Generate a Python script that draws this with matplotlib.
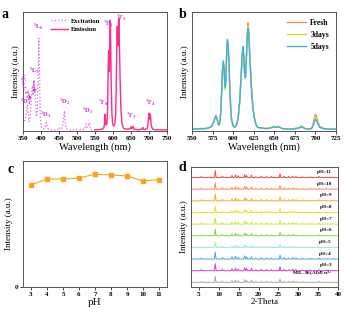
import matplotlib
matplotlib.use("Agg")
import matplotlib.pyplot as plt

plt.rcParams['font.family'] = 'Liberation Serif'
plt.rcParams['font.weight'] = 'bold'
plt.rcParams['mathtext.fontset'] = 'custom'
plt.rcParams['mathtext.rm'] = 'Liberation Serif:bold'
plt.rcParams['mathtext.it'] = 'Liberation Serif:bold'
plt.rcParams['mathtext.bf'] = 'Liberation Serif:bold'
plt.rcParams['axes.linewidth'] = 0.7
plt.rcParams['axes.edgecolor'] = '#555555'

# ---- panel a: excitation / emission ----
exc_x = [350, 353, 356, 359, 362, 364, 367, 370, 373, 376, 378, 381, 384, 387, 390, 392,
         394, 396, 398, 401, 405, 410, 413, 415, 417, 420, 430, 440, 448, 451, 454, 458,
         462, 465, 467, 470, 480, 500, 515, 522, 525, 528, 531, 534, 537, 540, 545, 550]
exc_y = [0.10, 0.08, 0.09, 0.14, 0.22, 0.15, 0.08, 0.12, 0.25, 0.38, 0.30, 0.43, 0.30, 0.12, 0.18, 0.45,
         0.78, 0.50, 0.12, 0.03, 0.02, 0.02, 0.04, 0.07, 0.04, 0.02, 0.01, 0.01, 0.015, 0.03, 0.015, 0.02,
         0.08, 0.17, 0.08, 0.02, 0.01, 0.01, 0.01, 0.02, 0.06, 0.03, 0.04, 0.07, 0.03, 0.01, 0.01, 0.01]
em_x = [550, 560, 570, 575, 577, 578, 579, 581, 583, 585, 586, 587, 588, 589, 590, 591, 592, 593,
        594, 595, 597, 599, 602, 605, 607, 609, 610, 611, 612, 613, 614, 615, 616, 617, 618, 620,
        622, 625, 630, 640, 648, 650, 652, 655, 658, 670, 680, 683, 686, 695, 698, 700, 702, 704,
        706, 710, 720, 735, 750]
em_y = [0.01, 0.012, 0.015, 0.03, 0.08, 0.14, 0.10, 0.05, 0.06, 0.18, 0.38, 0.60, 0.68, 0.58, 0.50, 0.75, 0.93, 0.88,
        0.65, 0.40, 0.15, 0.06, 0.04, 0.06, 0.12, 0.35, 0.60, 0.80, 0.88, 0.75, 0.72, 0.88, 0.95, 0.90, 0.70, 0.40,
        0.18, 0.06, 0.02, 0.015, 0.02, 0.035, 0.02, 0.04, 0.015, 0.01, 0.015, 0.03, 0.01, 0.02, 0.08, 0.15, 0.10, 0.14,
        0.05, 0.015, 0.01, 0.01, 0.01]
a_labels = [r'$^{5}$L$_{6}$', r'$^{5}$L$_{7}$', r'$^{5}$D$_{4}$', r'$^{5}$D$_{3}$', r'$^{5}$D$_{2}$',
            r'$^{5}$D$_{1}$', r'$^{7}$F$_{0}$', r'$^{7}$F$_{1}$', r'$^{7}$F$_{2}$', r'$^{7}$F$_{3}$',
            r'$^{7}$F$_{4}$']
a_label_x = [394, 381, 357, 414, 465, 530, 574, 586, 622, 651, 704]
a_label_y = [0.83, 0.46, 0.20, 0.09, 0.20, 0.13, 0.19, 0.86, 0.91, 0.08, 0.19]

# ---- panel b: stability ----
b_x = [550, 555, 560, 565, 570, 574, 576, 578, 579, 580, 582, 583, 584, 585, 586, 587, 588, 589,
       590, 591, 592, 593, 594, 595, 596, 597, 598, 600, 602, 604, 606, 608, 610, 611, 612, 613,
       614, 615, 616, 617, 618, 619, 620, 622, 624, 626, 628, 630, 640, 645, 648, 650, 652, 655,
       657, 660, 670, 675, 680, 683, 686, 690, 695, 697, 699, 700, 701, 703, 705, 710, 720, 725]
fresh = [0.02, 0.015, 0.02, 0.02, 0.025, 0.04, 0.07, 0.11, 0.13, 0.11, 0.06, 0.05, 0.08, 0.16, 0.32, 0.50, 0.58, 0.52,
         0.36, 0.40, 0.62, 0.76, 0.72, 0.55, 0.35, 0.20, 0.10, 0.04, 0.03, 0.05, 0.10, 0.25, 0.50, 0.64, 0.70, 0.62,
         0.48, 0.45, 0.60, 0.80, 0.91, 0.85, 0.68, 0.40, 0.20, 0.10, 0.05, 0.03, 0.02, 0.025, 0.035, 0.04, 0.03, 0.04,
         0.03, 0.02, 0.015, 0.02, 0.025, 0.045, 0.025, 0.015, 0.02, 0.05, 0.12, 0.14, 0.13, 0.08, 0.04, 0.02, 0.015, 0.015]
days3 = [0.02, 0.015, 0.02, 0.02, 0.025, 0.04, 0.07, 0.11, 0.13, 0.11, 0.06, 0.05, 0.08, 0.16, 0.31, 0.49, 0.57, 0.51,
         0.35, 0.39, 0.61, 0.74, 0.70, 0.54, 0.34, 0.20, 0.10, 0.04, 0.03, 0.05, 0.10, 0.25, 0.49, 0.63, 0.69, 0.61,
         0.47, 0.44, 0.59, 0.78, 0.88, 0.83, 0.66, 0.39, 0.20, 0.10, 0.05, 0.03, 0.02, 0.025, 0.035, 0.04, 0.03, 0.04,
         0.03, 0.02, 0.015, 0.02, 0.025, 0.04, 0.025, 0.015, 0.02, 0.045, 0.10, 0.12, 0.11, 0.07, 0.035, 0.02, 0.015, 0.015]
days5 = [0.02, 0.015, 0.02, 0.02, 0.025, 0.04, 0.07, 0.11, 0.13, 0.11, 0.06, 0.05, 0.08, 0.16, 0.33, 0.51, 0.59, 0.53,
         0.37, 0.41, 0.63, 0.77, 0.73, 0.56, 0.35, 0.20, 0.10, 0.04, 0.03, 0.05, 0.10, 0.25, 0.50, 0.65, 0.71, 0.62,
         0.48, 0.45, 0.59, 0.77, 0.86, 0.81, 0.65, 0.38, 0.19, 0.10, 0.05, 0.03, 0.02, 0.025, 0.03, 0.035, 0.03, 0.035,
         0.03, 0.02, 0.015, 0.02, 0.025, 0.035, 0.025, 0.015, 0.02, 0.04, 0.085, 0.10, 0.09, 0.06, 0.03, 0.02, 0.015, 0.015]
b_names = ['Fresh', '3days', '5days']
b_colors = ['#ff8a55', '#c6e62c', '#3cb2e8']

# ---- panel c: pH ----
ph = [3, 4, 5, 6, 7, 8, 9, 10, 11]
ph_int = [810, 857, 857, 865, 895, 889, 881, 841, 853]

# ---- panel d: XRD ----
xrd_pos = [5.6, 9.1, 10.9, 13.3, 14.2, 14.9, 16.5, 17.0, 18.2, 19.3, 20.7, 22.0, 23.2,
           25.4, 26.4, 27.6, 28.6, 29.4, 31.0, 33.0, 35.2, 37.0, 38.5]
xrd_h = [0.15, 1.0, 0.22, 0.3, 0.4, 0.25, 0.45, 0.3, 0.35, 0.12, 0.2, 0.15, 0.15,
         0.55, 0.18, 0.15, 0.22, 0.18, 0.1, 0.1, 0.15, 0.08, 0.06]
d_names = [r'MIL-96(Al)/Eu$^{3+}$', 'pH=3', 'pH=4', 'pH=5', 'pH=6', 'pH=7', 'pH=8', 'pH=9', 'pH=10', 'pH=11']
d_colors = ['#a8a8a8', '#d838d0', '#3aa8ec', '#90f0c8', '#80d840', '#c8e838', '#ffd820', '#ffa828', '#ff8848', '#ff4444']
d_scale = [0.5, 0.6, 0.6, 0.45, 0.55, 0.55, 0.55, 0.6, 0.55, 0.6]

fig = plt.figure(figsize=(3.57, 3.19), dpi=100)
ax_a = fig.add_axes([0.0644, 0.5893, 0.4034, 0.373])
ax_b = fig.add_axes([0.5378, 0.5893, 0.4034, 0.373])
ax_c = fig.add_axes([0.0644, 0.1003, 0.4034, 0.395])
ax_d = fig.add_axes([0.535, 0.1003, 0.412, 0.376])

tick_kw = dict(labelsize=5, length=2, width=0.5, pad=1.5, direction='out')

# a
ax_a.plot(exc_x, exc_y, color='#dd66dd', lw=0.9, ls=':', label='Excitation')
ax_a.plot(em_x, em_y, color='#ff2a8a', lw=1.0, label='Emission')
for t, x, y in zip(a_labels, a_label_x, a_label_y):
    ax_a.text(x, y, t, color='#cc33cc', fontsize=4.8, ha='center', va='bottom')
ax_a.text(356, 0.36, r'$^{5}$G$_{2,3,4,5,6}$', color='#cc33cc', fontsize=4.8, rotation=-70,
          ha='center', va='center')
ax_a.annotate('', xy=(372, 0.24), xytext=(362, 0.36),
              arrowprops=dict(arrowstyle='-|>', color='#cc33cc', lw=0.6, mutation_scale=4))
ax_a.annotate('', xy=(384, 0.30), xytext=(378, 0.44),
              arrowprops=dict(arrowstyle='-|>', color='#cc33cc', lw=0.6, mutation_scale=4))
ax_a.set_xlim(350, 750)
ax_a.set_ylim(0, 1.0)
ax_a.set_xticks(range(350, 751, 50))
ax_a.set_yticks([])
ax_a.tick_params(**tick_kw)
ax_a.set_xlabel('Wavelength (nm)', fontsize=7.5, labelpad=1)
ax_a.set_ylabel('Intensity (a.u.)', fontsize=6.5, labelpad=2)
ax_a.legend(loc='upper left', bbox_to_anchor=(0.15, 1.0), frameon=False, fontsize=4.8,
            handlelength=2.6, handletextpad=0.5, labelspacing=0.4)
fig.text(0.005, 0.975, 'a', fontsize=10, va='top')

# b
for ys, n, c in zip([fresh, days3, days5], b_names, b_colors):
    ax_b.plot(b_x, ys, color=c, lw=1.0, label=n)
ax_b.set_xlim(550, 725)
ax_b.set_ylim(0, 1.0)
ax_b.set_xticks(range(550, 726, 25))
ax_b.set_yticks([])
ax_b.tick_params(**tick_kw)
ax_b.set_xlabel('Wavelength (nm)', fontsize=7.5, labelpad=1)
ax_b.set_ylabel('Intensity (a.u.)', fontsize=6.5, labelpad=2)
ax_b.legend(loc='upper right', frameon=False, fontsize=5.5, handlelength=2.5,
            handletextpad=0.6, labelspacing=0.5)
fig.text(0.5, 0.975, 'b', fontsize=10, va='top')

# c
ax_c.plot(ph, ph_int, color='#ffa020', lw=0.8, marker='s', ms=3.5)
ax_c.set_xlim(2.5, 11.5)
ax_c.set_ylim(0, 1000)
ax_c.set_xticks(ph)
ax_c.set_yticks([0])
ax_c.tick_params(**tick_kw)
ax_c.set_xlabel('pH', fontsize=8, labelpad=1)
ax_c.set_ylabel('Intensity (a.u.)', fontsize=6.5, labelpad=1)
fig.text(0.02, 0.49, 'c', fontsize=10, va='top')

# d
for i, (n, c, s) in enumerate(zip(d_names, d_colors, d_scale)):
    xs = [3]
    ys = [i]
    for p, h in zip(xrd_pos, xrd_h):
        xs += [p - 0.22, p, p + 0.22]
        ys += [i, i + h * s, i]
    xs.append(40)
    ys.append(i)
    ax_d.plot(xs, ys, color=c, lw=0.7)
    ax_d.text(38.5, i + 0.3, n, fontsize=3.8, ha='right', va='bottom')
ax_d.set_xlim(3, 40)
ax_d.set_ylim(-0.4, 9.9)
ax_d.set_xticks(range(5, 41, 5))
ax_d.set_yticks([])
ax_d.tick_params(**tick_kw)
ax_d.set_xlabel('2-Theta', fontsize=6.5, labelpad=1)
ax_d.set_ylabel('Intensity (a.u.)', fontsize=6.5, labelpad=2)
fig.text(0.5, 0.495, 'd', fontsize=10, va='top')

fig.savefig('out.png', dpi=100)
